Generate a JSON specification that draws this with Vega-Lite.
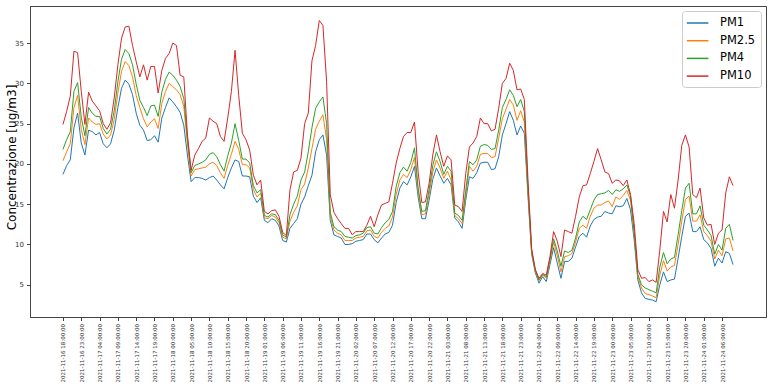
{
  "$schema": "https://vega.github.io/schema/vega-lite/v6.json",
  "width": 736,
  "height": 311,
  "autosize": "none",
  "padding": {"left": 30, "top": 6, "right": 7, "bottom": 69},
  "background": "white",
  "data": {"values": [
    {"t":"2021-11-16T18:00","p1":18.7,"p25":20.4,"p4":21.8,"p10":24.9},
    {"t":"2021-11-16T19:00","p1":19.8,"p25":21.5,"p4":23.0,"p10":26.5},
    {"t":"2021-11-16T20:00","p1":20.5,"p25":22.5,"p4":24.0,"p10":28.4},
    {"t":"2021-11-16T21:00","p1":24.5,"p25":27.0,"p4":29.0,"p10":34.0},
    {"t":"2021-11-16T22:00","p1":26.3,"p25":28.5,"p4":30.1,"p10":33.8},
    {"t":"2021-11-16T23:00","p1":22.6,"p25":24.3,"p4":25.8,"p10":29.0},
    {"t":"2021-11-17T00:00","p1":21.1,"p25":22.4,"p4":23.5,"p10":24.9},
    {"t":"2021-11-17T01:00","p1":24.2,"p25":25.7,"p4":27.0,"p10":28.9},
    {"t":"2021-11-17T02:00","p1":24.0,"p25":25.2,"p4":26.3,"p10":27.8},
    {"t":"2021-11-17T03:00","p1":23.6,"p25":24.9,"p4":25.9,"p10":27.2},
    {"t":"2021-11-17T04:00","p1":23.9,"p25":25.0,"p4":25.9,"p10":26.6},
    {"t":"2021-11-17T05:00","p1":22.5,"p25":23.7,"p4":24.4,"p10":25.0},
    {"t":"2021-11-17T06:00","p1":22.0,"p25":23.1,"p4":23.7,"p10":24.3},
    {"t":"2021-11-17T07:00","p1":22.5,"p25":23.6,"p4":24.3,"p10":25.1},
    {"t":"2021-11-17T08:00","p1":24.2,"p25":25.5,"p4":26.6,"p10":28.2},
    {"t":"2021-11-17T09:00","p1":27.0,"p25":28.8,"p4":30.2,"p10":32.3},
    {"t":"2021-11-17T10:00","p1":29.4,"p25":31.5,"p4":33.0,"p10":35.6},
    {"t":"2021-11-17T11:00","p1":30.4,"p25":32.7,"p4":34.2,"p10":37.0},
    {"t":"2021-11-17T12:00","p1":29.9,"p25":32.2,"p4":33.7,"p10":37.1},
    {"t":"2021-11-17T13:00","p1":28.6,"p25":30.8,"p4":32.3,"p10":34.7},
    {"t":"2021-11-17T14:00","p1":26.3,"p25":28.5,"p4":29.9,"p10":32.7},
    {"t":"2021-11-17T15:00","p1":24.8,"p25":27.0,"p4":27.9,"p10":30.8},
    {"t":"2021-11-17T16:00","p1":24.2,"p25":25.6,"p4":27.0,"p10":32.3},
    {"t":"2021-11-17T17:00","p1":22.9,"p25":24.6,"p4":26.0,"p10":30.4},
    {"t":"2021-11-17T18:00","p1":23.0,"p25":25.2,"p4":27.2,"p10":32.1},
    {"t":"2021-11-17T19:00","p1":23.5,"p25":25.6,"p4":27.3,"p10":32.1},
    {"t":"2021-11-17T20:00","p1":22.7,"p25":24.4,"p4":25.9,"p10":28.8},
    {"t":"2021-11-17T21:00","p1":25.7,"p25":27.5,"p4":28.9,"p10":31.6},
    {"t":"2021-11-17T22:00","p1":27.0,"p25":29.0,"p4":30.5,"p10":33.1},
    {"t":"2021-11-17T23:00","p1":28.2,"p25":30.0,"p4":31.4,"p10":33.7},
    {"t":"2021-11-18T00:00","p1":27.7,"p25":29.6,"p4":31.0,"p10":35.0},
    {"t":"2021-11-18T01:00","p1":27.1,"p25":29.2,"p4":30.4,"p10":34.7},
    {"t":"2021-11-18T02:00","p1":26.4,"p25":28.6,"p4":29.6,"p10":31.0},
    {"t":"2021-11-18T03:00","p1":24.8,"p25":27.1,"p4":28.1,"p10":30.8},
    {"t":"2021-11-18T04:00","p1":21.1,"p25":22.5,"p4":23.2,"p10":23.6},
    {"t":"2021-11-18T05:00","p1":17.8,"p25":18.5,"p4":18.9,"p10":19.2},
    {"t":"2021-11-18T06:00","p1":18.3,"p25":19.3,"p4":19.8,"p10":21.1},
    {"t":"2021-11-18T07:00","p1":18.3,"p25":19.4,"p4":20.0,"p10":21.9},
    {"t":"2021-11-18T08:00","p1":18.2,"p25":19.5,"p4":20.2,"p10":22.8},
    {"t":"2021-11-18T09:00","p1":18.0,"p25":19.6,"p4":20.5,"p10":23.2},
    {"t":"2021-11-18T10:00","p1":18.3,"p25":20.0,"p4":21.2,"p10":25.7},
    {"t":"2021-11-18T11:00","p1":18.5,"p25":20.2,"p4":21.4,"p10":25.3},
    {"t":"2021-11-18T12:00","p1":18.0,"p25":19.8,"p4":20.9,"p10":25.0},
    {"t":"2021-11-18T13:00","p1":17.4,"p25":18.9,"p4":19.9,"p10":23.4},
    {"t":"2021-11-18T14:00","p1":16.9,"p25":18.2,"p4":19.1,"p10":22.8},
    {"t":"2021-11-18T15:00","p1":18.3,"p25":19.8,"p4":21.0,"p10":25.7},
    {"t":"2021-11-18T16:00","p1":19.5,"p25":21.2,"p4":22.6,"p10":29.0},
    {"t":"2021-11-18T17:00","p1":20.5,"p25":22.8,"p4":25.0,"p10":34.1},
    {"t":"2021-11-18T18:00","p1":20.3,"p25":21.8,"p4":22.9,"p10":28.5},
    {"t":"2021-11-18T19:00","p1":18.5,"p25":19.9,"p4":20.6,"p10":23.8},
    {"t":"2021-11-18T20:00","p1":18.5,"p25":19.9,"p4":20.6,"p10":23.0},
    {"t":"2021-11-18T21:00","p1":18.4,"p25":19.5,"p4":20.1,"p10":21.7},
    {"t":"2021-11-18T22:00","p1":16.0,"p25":16.8,"p4":17.3,"p10":18.6},
    {"t":"2021-11-18T23:00","p1":15.2,"p25":15.9,"p4":16.4,"p10":17.4},
    {"t":"2021-11-19T00:00","p1":15.8,"p25":16.4,"p4":16.8,"p10":18.0},
    {"t":"2021-11-19T01:00","p1":13.0,"p25":13.3,"p4":13.6,"p10":14.1},
    {"t":"2021-11-19T02:00","p1":12.7,"p25":13.2,"p4":13.4,"p10":13.8},
    {"t":"2021-11-19T03:00","p1":13.2,"p25":13.6,"p4":13.8,"p10":14.2},
    {"t":"2021-11-19T04:00","p1":13.0,"p25":13.4,"p4":13.7,"p10":14.3},
    {"t":"2021-11-19T05:00","p1":12.3,"p25":12.7,"p4":13.0,"p10":13.5},
    {"t":"2021-11-19T06:00","p1":10.5,"p25":10.9,"p4":11.2,"p10":11.5},
    {"t":"2021-11-19T07:00","p1":10.3,"p25":10.7,"p4":10.9,"p10":11.1},
    {"t":"2021-11-19T08:00","p1":12.0,"p25":12.9,"p4":13.7,"p10":16.8},
    {"t":"2021-11-19T09:00","p1":12.6,"p25":14.0,"p4":15.0,"p10":19.0},
    {"t":"2021-11-19T10:00","p1":13.2,"p25":14.8,"p4":16.0,"p10":19.2},
    {"t":"2021-11-19T11:00","p1":15.0,"p25":16.8,"p4":18.0,"p10":20.7},
    {"t":"2021-11-19T12:00","p1":15.9,"p25":17.5,"p4":19.0,"p10":25.0},
    {"t":"2021-11-19T13:00","p1":17.3,"p25":19.5,"p4":21.5,"p10":26.3},
    {"t":"2021-11-19T14:00","p1":18.6,"p25":21.9,"p4":24.5,"p10":32.8},
    {"t":"2021-11-19T15:00","p1":21.5,"p25":24.3,"p4":26.9,"p10":34.7},
    {"t":"2021-11-19T16:00","p1":23.0,"p25":25.3,"p4":27.7,"p10":37.8},
    {"t":"2021-11-19T17:00","p1":23.6,"p25":26.1,"p4":28.3,"p10":37.2},
    {"t":"2021-11-19T18:00","p1":21.1,"p25":23.0,"p4":25.0,"p10":30.2},
    {"t":"2021-11-19T19:00","p1":13.0,"p25":13.5,"p4":14.0,"p10":16.2},
    {"t":"2021-11-19T20:00","p1":11.2,"p25":11.8,"p4":12.2,"p10":14.0},
    {"t":"2021-11-19T21:00","p1":11.0,"p25":11.4,"p4":11.8,"p10":13.2},
    {"t":"2021-11-19T22:00","p1":10.8,"p25":11.2,"p4":11.6,"p10":12.6},
    {"t":"2021-11-19T23:00","p1":10.0,"p25":10.5,"p4":11.0,"p10":12.0},
    {"t":"2021-11-20T00:00","p1":10.0,"p25":10.5,"p4":10.9,"p10":12.0},
    {"t":"2021-11-20T01:00","p1":10.1,"p25":10.5,"p4":10.8,"p10":11.2},
    {"t":"2021-11-20T02:00","p1":10.4,"p25":10.8,"p4":11.1,"p10":11.6},
    {"t":"2021-11-20T03:00","p1":10.5,"p25":10.9,"p4":11.2,"p10":11.6},
    {"t":"2021-11-20T04:00","p1":10.6,"p25":11.0,"p4":11.4,"p10":11.6},
    {"t":"2021-11-20T05:00","p1":11.3,"p25":11.7,"p4":12.1,"p10":12.4},
    {"t":"2021-11-20T06:00","p1":11.3,"p25":11.8,"p4":12.2,"p10":13.5},
    {"t":"2021-11-20T07:00","p1":10.6,"p25":11.0,"p4":11.4,"p10":12.2},
    {"t":"2021-11-20T08:00","p1":10.2,"p25":10.8,"p4":11.3,"p10":13.7},
    {"t":"2021-11-20T09:00","p1":10.8,"p25":11.5,"p4":12.1,"p10":14.9},
    {"t":"2021-11-20T10:00","p1":11.3,"p25":12.0,"p4":12.7,"p10":15.1},
    {"t":"2021-11-20T11:00","p1":11.5,"p25":12.3,"p4":13.1,"p10":15.3},
    {"t":"2021-11-20T12:00","p1":12.4,"p25":13.4,"p4":14.1,"p10":17.6},
    {"t":"2021-11-20T13:00","p1":15.2,"p25":16.2,"p4":17.2,"p10":20.1},
    {"t":"2021-11-20T14:00","p1":17.0,"p25":18.0,"p4":18.9,"p10":21.9},
    {"t":"2021-11-20T15:00","p1":17.8,"p25":18.7,"p4":19.6,"p10":23.4},
    {"t":"2021-11-20T16:00","p1":17.4,"p25":18.3,"p4":19.1,"p10":23.9},
    {"t":"2021-11-20T17:00","p1":18.4,"p25":19.3,"p4":20.2,"p10":23.9},
    {"t":"2021-11-20T18:00","p1":19.7,"p25":20.8,"p4":22.0,"p10":25.2},
    {"t":"2021-11-20T19:00","p1":15.9,"p25":16.5,"p4":17.0,"p10":19.0},
    {"t":"2021-11-20T20:00","p1":13.2,"p25":13.7,"p4":14.1,"p10":15.2},
    {"t":"2021-11-20T21:00","p1":13.2,"p25":13.8,"p4":14.2,"p10":15.3},
    {"t":"2021-11-20T22:00","p1":15.5,"p25":16.2,"p4":16.8,"p10":17.6},
    {"t":"2021-11-20T23:00","p1":18.1,"p25":19.0,"p4":19.8,"p10":21.1},
    {"t":"2021-11-21T00:00","p1":19.5,"p25":20.5,"p4":21.5,"p10":23.6},
    {"t":"2021-11-21T01:00","p1":18.5,"p25":19.5,"p4":20.3,"p10":21.5},
    {"t":"2021-11-21T02:00","p1":17.6,"p25":18.2,"p4":18.7,"p10":19.7},
    {"t":"2021-11-21T03:00","p1":18.2,"p25":19.1,"p4":19.7,"p10":21.0},
    {"t":"2021-11-21T04:00","p1":17.4,"p25":18.0,"p4":19.1,"p10":20.5},
    {"t":"2021-11-21T05:00","p1":13.3,"p25":13.6,"p4":13.9,"p10":14.9},
    {"t":"2021-11-21T06:00","p1":12.8,"p25":13.2,"p4":13.6,"p10":14.7},
    {"t":"2021-11-21T07:00","p1":12.0,"p25":12.6,"p4":13.0,"p10":14.1},
    {"t":"2021-11-21T08:00","p1":15.5,"p25":16.1,"p4":16.7,"p10":18.8},
    {"t":"2021-11-21T09:00","p1":18.4,"p25":19.7,"p4":20.3,"p10":22.1},
    {"t":"2021-11-21T10:00","p1":18.2,"p25":19.1,"p4":19.9,"p10":22.6},
    {"t":"2021-11-21T11:00","p1":18.9,"p25":19.7,"p4":20.5,"p10":23.4},
    {"t":"2021-11-21T12:00","p1":20.1,"p25":21.2,"p4":22.2,"p10":25.7},
    {"t":"2021-11-21T13:00","p1":20.2,"p25":21.3,"p4":22.4,"p10":25.0},
    {"t":"2021-11-21T14:00","p1":20.2,"p25":21.3,"p4":22.3,"p10":25.0},
    {"t":"2021-11-21T15:00","p1":19.3,"p25":20.8,"p4":21.8,"p10":24.1},
    {"t":"2021-11-21T16:00","p1":19.4,"p25":20.9,"p4":21.9,"p10":24.3},
    {"t":"2021-11-21T17:00","p1":20.9,"p25":23.2,"p4":24.2,"p10":26.9},
    {"t":"2021-11-21T18:00","p1":23.6,"p25":25.6,"p4":27.0,"p10":30.0},
    {"t":"2021-11-21T19:00","p1":25.0,"p25":26.8,"p4":28.0,"p10":30.6},
    {"t":"2021-11-21T20:00","p1":26.5,"p25":28.0,"p4":29.2,"p10":32.5},
    {"t":"2021-11-21T21:00","p1":25.4,"p25":27.3,"p4":28.5,"p10":31.6},
    {"t":"2021-11-21T22:00","p1":23.6,"p25":25.4,"p4":27.1,"p10":29.2},
    {"t":"2021-11-21T23:00","p1":24.7,"p25":26.6,"p4":28.0,"p10":29.3},
    {"t":"2021-11-22T00:00","p1":23.8,"p25":25.2,"p4":26.5,"p10":28.0},
    {"t":"2021-11-22T01:00","p1":16.0,"p25":16.5,"p4":17.0,"p10":18.0},
    {"t":"2021-11-22T02:00","p1":8.8,"p25":9.0,"p4":9.2,"p10":9.5},
    {"t":"2021-11-22T03:00","p1":6.5,"p25":6.7,"p4":6.8,"p10":6.9},
    {"t":"2021-11-22T04:00","p1":5.2,"p25":5.5,"p4":5.6,"p10":5.8},
    {"t":"2021-11-22T05:00","p1":6.0,"p25":6.2,"p4":6.3,"p10":6.4},
    {"t":"2021-11-22T06:00","p1":5.4,"p25":5.8,"p4":6.0,"p10":6.2},
    {"t":"2021-11-22T07:00","p1":7.5,"p25":7.9,"p4":8.2,"p10":8.5},
    {"t":"2021-11-22T08:00","p1":9.6,"p25":10.3,"p4":10.7,"p10":11.6},
    {"t":"2021-11-22T09:00","p1":7.7,"p25":8.6,"p4":9.2,"p10":10.4},
    {"t":"2021-11-22T10:00","p1":5.8,"p25":6.6,"p4":7.3,"p10":8.5},
    {"t":"2021-11-22T11:00","p1":7.9,"p25":8.5,"p4":9.2,"p10":11.8},
    {"t":"2021-11-22T12:00","p1":7.9,"p25":8.6,"p4":9.0,"p10":11.6},
    {"t":"2021-11-22T13:00","p1":8.3,"p25":8.9,"p4":9.3,"p10":11.4},
    {"t":"2021-11-22T14:00","p1":9.7,"p25":10.3,"p4":10.8,"p10":13.5},
    {"t":"2021-11-22T15:00","p1":11.0,"p25":12.0,"p4":12.8,"p10":15.9},
    {"t":"2021-11-22T16:00","p1":11.4,"p25":12.4,"p4":13.5,"p10":17.3},
    {"t":"2021-11-22T17:00","p1":10.9,"p25":12.0,"p4":13.1,"p10":17.4},
    {"t":"2021-11-22T18:00","p1":12.3,"p25":13.5,"p4":14.3,"p10":18.8},
    {"t":"2021-11-22T19:00","p1":13.1,"p25":14.5,"p4":15.5,"p10":20.3},
    {"t":"2021-11-22T20:00","p1":13.4,"p25":14.9,"p4":16.2,"p10":21.9},
    {"t":"2021-11-22T21:00","p1":13.5,"p25":14.9,"p4":16.3,"p10":20.5},
    {"t":"2021-11-22T22:00","p1":14.1,"p25":15.2,"p4":16.4,"p10":19.0},
    {"t":"2021-11-22T23:00","p1":13.9,"p25":15.4,"p4":16.7,"p10":18.8},
    {"t":"2021-11-23T00:00","p1":13.8,"p25":14.7,"p4":16.2,"p10":17.6},
    {"t":"2021-11-23T01:00","p1":14.8,"p25":15.9,"p4":16.8,"p10":18.0},
    {"t":"2021-11-23T02:00","p1":14.7,"p25":15.6,"p4":16.6,"p10":17.9},
    {"t":"2021-11-23T03:00","p1":14.8,"p25":16.1,"p4":16.9,"p10":17.3},
    {"t":"2021-11-23T04:00","p1":15.7,"p25":16.7,"p4":17.4,"p10":18.0},
    {"t":"2021-11-23T05:00","p1":14.3,"p25":15.5,"p4":16.0,"p10":16.2},
    {"t":"2021-11-23T06:00","p1":10.6,"p25":11.2,"p4":11.6,"p10":12.6},
    {"t":"2021-11-23T07:00","p1":5.6,"p25":6.0,"p4":6.3,"p10":6.9},
    {"t":"2021-11-23T08:00","p1":4.0,"p25":4.6,"p4":5.0,"p10":5.8},
    {"t":"2021-11-23T09:00","p1":3.3,"p25":3.9,"p4":4.6,"p10":5.9},
    {"t":"2021-11-23T10:00","p1":3.2,"p25":3.8,"p4":4.4,"p10":5.4},
    {"t":"2021-11-23T11:00","p1":3.1,"p25":3.6,"p4":4.2,"p10":5.6},
    {"t":"2021-11-23T12:00","p1":2.9,"p25":3.4,"p4":4.0,"p10":5.3},
    {"t":"2021-11-23T13:00","p1":5.0,"p25":6.2,"p4":7.2,"p10":9.3},
    {"t":"2021-11-23T14:00","p1":6.6,"p25":8.0,"p4":9.0,"p10":14.1},
    {"t":"2021-11-23T15:00","p1":5.4,"p25":6.7,"p4":7.6,"p10":12.8},
    {"t":"2021-11-23T16:00","p1":5.6,"p25":7.2,"p4":8.2,"p10":16.2},
    {"t":"2021-11-23T17:00","p1":5.7,"p25":7.4,"p4":8.4,"p10":14.5},
    {"t":"2021-11-23T18:00","p1":8.3,"p25":10.0,"p4":11.2,"p10":18.0},
    {"t":"2021-11-23T19:00","p1":11.0,"p25":12.9,"p4":14.2,"p10":22.3},
    {"t":"2021-11-23T20:00","p1":13.5,"p25":15.6,"p4":17.0,"p10":23.6},
    {"t":"2021-11-23T21:00","p1":13.9,"p25":16.0,"p4":17.6,"p10":22.1},
    {"t":"2021-11-23T22:00","p1":11.6,"p25":12.9,"p4":13.8,"p10":16.2},
    {"t":"2021-11-23T23:00","p1":11.6,"p25":12.9,"p4":13.8,"p10":15.8},
    {"t":"2021-11-24T00:00","p1":12.2,"p25":13.7,"p4":14.8,"p10":17.0},
    {"t":"2021-11-24T01:00","p1":10.6,"p25":11.6,"p4":12.4,"p10":13.3},
    {"t":"2021-11-24T02:00","p1":10.2,"p25":11.1,"p4":11.8,"p10":12.4},
    {"t":"2021-11-24T03:00","p1":9.5,"p25":10.4,"p4":11.1,"p10":12.5},
    {"t":"2021-11-24T04:00","p1":7.3,"p25":8.2,"p4":8.8,"p10":10.0},
    {"t":"2021-11-24T05:00","p1":8.3,"p25":9.3,"p4":10.0,"p10":11.4},
    {"t":"2021-11-24T06:00","p1":7.7,"p25":8.6,"p4":9.3,"p10":11.8},
    {"t":"2021-11-24T07:00","p1":9.1,"p25":10.7,"p4":12.0,"p10":16.4},
    {"t":"2021-11-24T08:00","p1":8.9,"p25":10.8,"p4":12.5,"p10":18.4},
    {"t":"2021-11-24T09:00","p1":7.5,"p25":9.2,"p4":10.5,"p10":17.3}
  ]},
  "encoding": {
    "x": {
      "field": "t", "type": "temporal",
      "scale": {"domain": [{"year":2021,"month":11,"date":16,"hours":9}, {"year":2021,"month":11,"date":24,"hours":18}]},
      "axis": {
        "title": null, "grid": false, "format": "%Y-%m-%d %H:%M:%S", "labelAngle": 270,
        "labelAlign": "right", "labelBaseline": "middle", "labelFontSize": 5.5, "labelPadding": 3,
        "tickSize": 3.5, "labelOverlap": false, "labelFlush": false,
        "values": [
          {"year":2021,"month":11,"date":16,"hours":18},{"year":2021,"month":11,"date":16,"hours":23},
          {"year":2021,"month":11,"date":17,"hours":4},{"year":2021,"month":11,"date":17,"hours":9},
          {"year":2021,"month":11,"date":17,"hours":14},{"year":2021,"month":11,"date":17,"hours":19},
          {"year":2021,"month":11,"date":18,"hours":0},{"year":2021,"month":11,"date":18,"hours":5},
          {"year":2021,"month":11,"date":18,"hours":10},{"year":2021,"month":11,"date":18,"hours":15},
          {"year":2021,"month":11,"date":18,"hours":20},{"year":2021,"month":11,"date":19,"hours":1},
          {"year":2021,"month":11,"date":19,"hours":6},{"year":2021,"month":11,"date":19,"hours":11},
          {"year":2021,"month":11,"date":19,"hours":16},{"year":2021,"month":11,"date":19,"hours":21},
          {"year":2021,"month":11,"date":20,"hours":2},{"year":2021,"month":11,"date":20,"hours":7},
          {"year":2021,"month":11,"date":20,"hours":12},{"year":2021,"month":11,"date":20,"hours":17},
          {"year":2021,"month":11,"date":20,"hours":22},{"year":2021,"month":11,"date":21,"hours":3},
          {"year":2021,"month":11,"date":21,"hours":8},{"year":2021,"month":11,"date":21,"hours":13},
          {"year":2021,"month":11,"date":21,"hours":18},{"year":2021,"month":11,"date":21,"hours":23},
          {"year":2021,"month":11,"date":22,"hours":4},{"year":2021,"month":11,"date":22,"hours":9},
          {"year":2021,"month":11,"date":22,"hours":14},{"year":2021,"month":11,"date":22,"hours":19},
          {"year":2021,"month":11,"date":23,"hours":0},{"year":2021,"month":11,"date":23,"hours":5},
          {"year":2021,"month":11,"date":23,"hours":10},{"year":2021,"month":11,"date":23,"hours":15},
          {"year":2021,"month":11,"date":23,"hours":20},{"year":2021,"month":11,"date":24,"hours":1},
          {"year":2021,"month":11,"date":24,"hours":6}
        ]
      }
    },
    "color": {
      "scale": {"domain": ["PM1", "PM2.5", "PM4", "PM10"], "range": ["#1f77b4", "#ff7f0e", "#2ca02c", "#d62728"]},
      "legend": {
        "title": null, "orient": "top-right", "offset": 5, "padding": 5, "strokeColor": "#cccccc",
        "fillColor": "rgba(255,255,255,0.85)", "cornerRadius": 3, "labelFontSize": 11.5, "labelFont": "DejaVu Sans",
        "labelColor": "#000", "symbolType": "M-1.2,0L2.4,0", "symbolStrokeWidth": 1.5, "symbolSize": 144,
        "rowPadding": 4.7, "labelOffset": 19
      }
    }
  },
  "layer": [
    {"mark": {"type": "line", "strokeWidth": 1, "clip": true}, "encoding": {
      "y": {"field": "p1", "type": "quantitative", "scale": {"domain": [1.0, 39.6], "nice": false, "zero": false},
        "axis": {"title": "Concentrazione [ug/m3]", "values": [5,10,15,20,25,30,35], "grid": false,
          "labelFontSize": 7, "tickSize": 3.5, "labelPadding": 3, "titleFontSize": 12, "titleFontWeight": "normal",
          "titleFont": "DejaVu Sans", "titleColor": "#000", "titleX": -19, "titleY": 151, "titleBaseline": "middle", "titleAnchor": "middle"}},
      "color": {"datum": "PM1"}}},
    {"mark": {"type": "line", "strokeWidth": 1, "clip": true}, "encoding": {
      "y": {"field": "p25", "type": "quantitative"}, "color": {"datum": "PM2.5"}}},
    {"mark": {"type": "line", "strokeWidth": 1, "clip": true}, "encoding": {
      "y": {"field": "p4", "type": "quantitative"}, "color": {"datum": "PM4"}}},
    {"mark": {"type": "line", "strokeWidth": 1, "clip": true}, "encoding": {
      "y": {"field": "p10", "type": "quantitative"}, "color": {"datum": "PM10"}}}
  ],
  "config": {
    "font": "DejaVu Sans",
    "view": {"stroke": "#444", "strokeWidth": 1},
    "axis": {"domainColor": "#444", "tickColor": "#444", "labelColor": "#333", "labelFont": "DejaVu Sans"}
  }
}
